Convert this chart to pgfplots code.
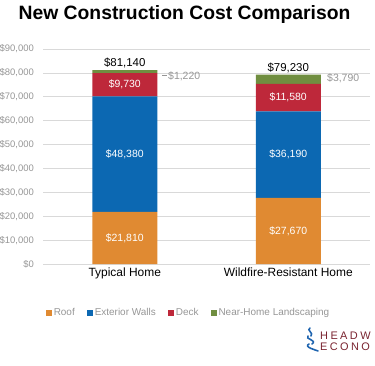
\documentclass[border=0pt]{standalone}
\usepackage{pgfplots}
\pgfplotsset{compat=1.18}
\usepackage{fontspec}
\setmainfont{Liberation Sans}
\definecolor{roof}{RGB}{224,138,50}
\definecolor{walls}{RGB}{12,104,178}
\definecolor{deck}{RGB}{190,40,58}
\definecolor{land}{RGB}{112,142,64}
\definecolor{tickgray}{RGB}{150,150,150}
\definecolor{gridgray}{RGB}{217,217,217}
\definecolor{logored}{RGB}{122,36,48}
\definecolor{logoblue}{RGB}{30,100,175}
\begin{document}
\begin{tikzpicture}
\useasboundingbox (0,0) rectangle (375bp,366bp);
\node[anchor=base, font=\fontsize{19.4}{22}\selectfont\bfseries] at (184.5bp,346bp) {New Construction Cost Comparison};
\begin{axis}[
  at={(43bp,102bp)}, anchor=south west,
  scale only axis, width=327bp, height=215bp,
  ybar stacked, bar width=65bp,
  xmin=-0.5, xmax=1.5, ymin=0, ymax=90000,
  ytick={0,10000,...,90000},
  xtick={0,1}, xticklabels={Typical Home, Wildfire-Resistant Home},
  axis line style={draw=none},
  major tick length=0pt,
  ymajorgrids, grid style={gridgray, line width=0.6pt},
  scaled y ticks=false,
  yticklabel={\$\pgfmathprintnumber[1000 sep={,}, assume math mode=true]{\tick}},
  yticklabel style={font=\fontsize{9.5}{11}\selectfont, text=tickgray, inner sep=0pt, anchor=east, xshift=-9bp},
  xticklabel style={font=\fontsize{12}{14}\selectfont, text=black, inner sep=0pt, anchor=north, yshift=-4bp},
  clip=false,
  legend columns=4,
  legend style={draw=none, fill=none, at={(axis description cs:0.445,-0.228)}, anchor=center,
    font=\fontsize{10}{12}\selectfont, text=tickgray,
    /tikz/every even column/.append style={column sep=10bp}},
  legend image code/.code={\path[#1, draw=none] (0bp,-3bp) rectangle (6bp,3bp);},
]
\addplot[fill=roof, draw=none] coordinates {(0,21810) (1,27670)};
\addplot[fill=walls, draw=none] coordinates {(0,48380) (1,36190)};
\addplot[fill=deck, draw=none] coordinates {(0,9730) (1,11580)};
\addplot[fill=land, draw=none] coordinates {(0,1220) (1,3790)};
\node[anchor=base, font=\fontsize{11.5}{13}\selectfont, yshift=3.5bp] at (axis cs:0,81140) {\$81,140};
\node[anchor=base, font=\fontsize{11.5}{13}\selectfont, yshift=3.5bp] at (axis cs:1,79230) {\$79,230};
\draw[tickgray, line width=0.6pt] (axis cs:0.23,78900) -- (axis cs:0.258,78900);
\node[anchor=west, inner sep=0pt, font=\fontsize{10.5}{12}\selectfont, text=tickgray] at (axis cs:0.2645,78700) {\$1,220};
\node[anchor=west, inner sep=0pt, font=\fontsize{10.5}{12}\selectfont, text=tickgray] at (axis cs:1.237,77860) {\$3,790};
\legend{Roof, Exterior Walls, Deck, Near-Home Landscaping}
\end{axis}
% overlay axis for the white labels inside the bars
\begin{axis}[
  at={(43bp,102bp)}, anchor=south west,
  scale only axis, width=327bp, height=215bp,
  xmin=-0.5, xmax=1.5, ymin=0, ymax=90000,
  hide axis, clip=false,
]
\addplot[draw=none, mark=none, nodes near coords, point meta=explicit symbolic,
  every node near coord/.style={anchor=center, font=\fontsize{10.5}{12}\selectfont, text=white}]
  coordinates {(0,10905) [\$21{,}810] (0,46000) [\$48{,}380] (0,75055) [\$9{,}730]
               (1,13835) [\$27{,}670] (1,45765) [\$36{,}190] (1,69650) [\$11{,}580]};
\end{axis}
% logo (cut off at the right edge, as in the reference)
\draw[logoblue, line width=1.6pt, line cap=round] (310bp,38bp) .. controls (306bp,36bp) and (314bp,33bp) .. (311bp,30bp);
\draw[logoblue, line width=1.6pt, line cap=round] (308bp,30bp) .. controls (304bp,27bp) and (318bp,26bp) .. (312bp,22bp);
\draw[logoblue, line width=1.6pt, line cap=round] (309bp,22bp) .. controls (303bp,19bp) and (316bp,16bp) .. (318bp,15bp);
\node[anchor=west, inner sep=0pt, text=logored, font=\fontsize{11}{13}\selectfont\addfontfeature{LetterSpace=22}] at (320bp,30bp) {HEADW};
\node[anchor=west, inner sep=0pt, text=logored, font=\fontsize{11}{13}\selectfont\addfontfeature{LetterSpace=22}] at (320bp,19bp) {ECONO};
\end{tikzpicture}
\end{document}
